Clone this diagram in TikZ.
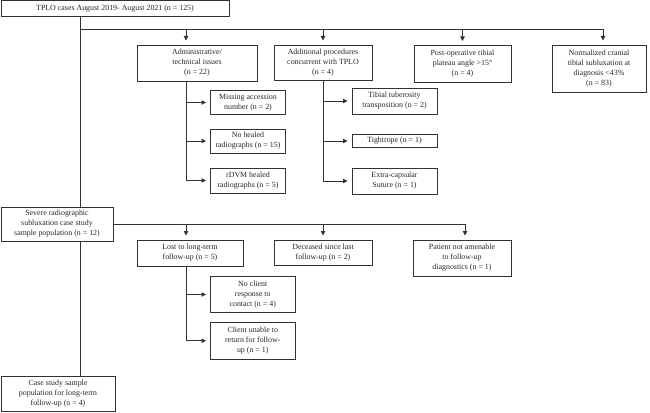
\documentclass[tikz,border=0pt]{standalone}
\usepackage{fontspec}
\setmainfont{Liberation Serif}
\usetikzlibrary{arrows.meta}
\begin{document}
\begin{tikzpicture}[x=1pt,y=-1pt,
  box/.style={draw=linegray, line width=0.9pt, inner sep=0pt, outer sep=0pt, anchor=north west, align=center,
    font=\fontsize{7.9}{10}\selectfont, text=black!85},
  conn/.style={draw=linegray, line width=0.9pt},
  arr/.style={conn, -{Triangle[length=4.5pt,width=4.5pt]}, shorten >=4.5pt}]
\definecolor{linegray}{RGB}{50,50,50}
\useasboundingbox (0,0) rectangle (650,412);
% boxes
\node[box, minimum width=228pt, minimum height=16pt] (top) at (1,0.5) {TPLO cases August 2019- August 2021 (n = 125)};
\node[box, minimum width=120pt, minimum height=36pt] (admin) at (137,45) {Administrative/\\technical issues\\(n = 22)};
\node[box, minimum width=98pt, minimum height=35pt] (addl) at (274,45) {Additional procedures\\concurrent with TPLO\\(n = 4)};
\node[box, minimum width=97pt, minimum height=37pt] (postop) at (414,45.5) {Post-operative tibial\\plateau angle >15°\\(n = 4)};
\node[box, minimum width=94pt, minimum height=47pt] (norm) at (552,45) {Normalized cranial\\tibial subluxation at\\diagnosis <43\%\\(n = 83)};
\node[box, minimum width=75pt, minimum height=24pt] (missing) at (210.5,90.5) {Missing accession\\number (n = 2)};
\node[box, minimum width=75pt, minimum height=24pt] (nohealed) at (210.5,129) {No healed\\radiographs (n = 15)};
\node[box, minimum width=75pt, minimum height=25pt] (rdvm) at (210.5,168) {rDVM healed\\radiographs (n = 5)};
\node[box, minimum width=85pt, minimum height=26pt] (tibial) at (352,88) {Tibial tuberosity\\transposition (n = 2)};
\node[box, minimum width=85pt, minimum height=13pt] (tight) at (352,134.5) {Tightrope (n = 1)};
\node[box, minimum width=85pt, minimum height=26pt] (extra) at (352,168) {Extra-capsular\\Suture (n = 1)};
\node[box, minimum width=112pt, minimum height=34pt] (severe) at (1,207) {Severe radiographic\\subluxation case study\\sample population (n = 12)};
\node[box, minimum width=106pt, minimum height=26pt] (lost) at (137,240) {Lost to long-term\\follow-up (n = 5)};
\node[box, minimum width=98pt, minimum height=25pt] (deceased) at (274,240) {Deceased since last\\follow-up (n = 2)};
\node[box, minimum width=98pt, minimum height=36pt] (patient) at (413,240) {Patient not amenable\\to follow-up\\diagnostics (n = 1)};
\node[box, minimum width=84.5pt, minimum height=36pt] (noclient) at (210.5,276.5) {No client\\response to\\contact (n = 4)};
\node[box, minimum width=84.5pt, minimum height=36.5pt] (unable) at (210.5,322.5) {Client unable to\\return for follow-\\up (n = 1)};
\node[box, minimum width=114pt, minimum height=35pt] (casestudy) at (1,376) {Case study sample\\population for long-term\\follow-up (n = 4)};
% junction coordinates
\coordinate (mainx) at (80,0.5);
\coordinate (h1) at (80,29);
\coordinate (h1end) at (603,29);
\coordinate (admx) at (186,81);
\coordinate (addx) at (323,80);
\coordinate (lostx) at (186,266);
\coordinate (sevend) at (465,224);
% main spine
\draw[conn] (mainx |- top.south) -- (mainx |- severe.north);
\draw[conn] (mainx |- severe.south) -- (mainx |- casestudy.north);
% first level
\draw[conn] (h1) -- (h1end);
\draw[arr] (h1 -| admx) -- (admin.north -| admx);
\draw[arr] (h1 -| addx) -- (addl.north -| addx);
\draw[arr] (h1 -| postop.north) -- (postop.north);
\draw[arr] (h1end) -- (norm.north -| h1end);
% admin branches
\draw[arr] (admx) |- (rdvm.west);
\draw[arr] (admx |- missing.west) -- (missing.west);
\draw[arr] (admx |- nohealed.west) -- (nohealed.west);
% additional branches
\draw[arr] (addx) |- (extra.west);
\draw[arr] (addx |- tibial.west) -- (tibial.west);
\draw[arr] (addx |- tight.west) -- (tight.west);
% severe level
\draw[conn] (severe.east) -- (sevend);
\draw[arr] (severe.east -| lostx) -- (lost.north -| lostx);
\draw[arr] (severe.east -| addx) -- (deceased.north -| addx);
\draw[arr] (sevend) -- (patient.north -| sevend);
% lost branches
\draw[arr] (lostx) |- (unable.west);
\draw[arr] (lostx |- noclient.west) -- (noclient.west);
\end{tikzpicture}
\end{document}
